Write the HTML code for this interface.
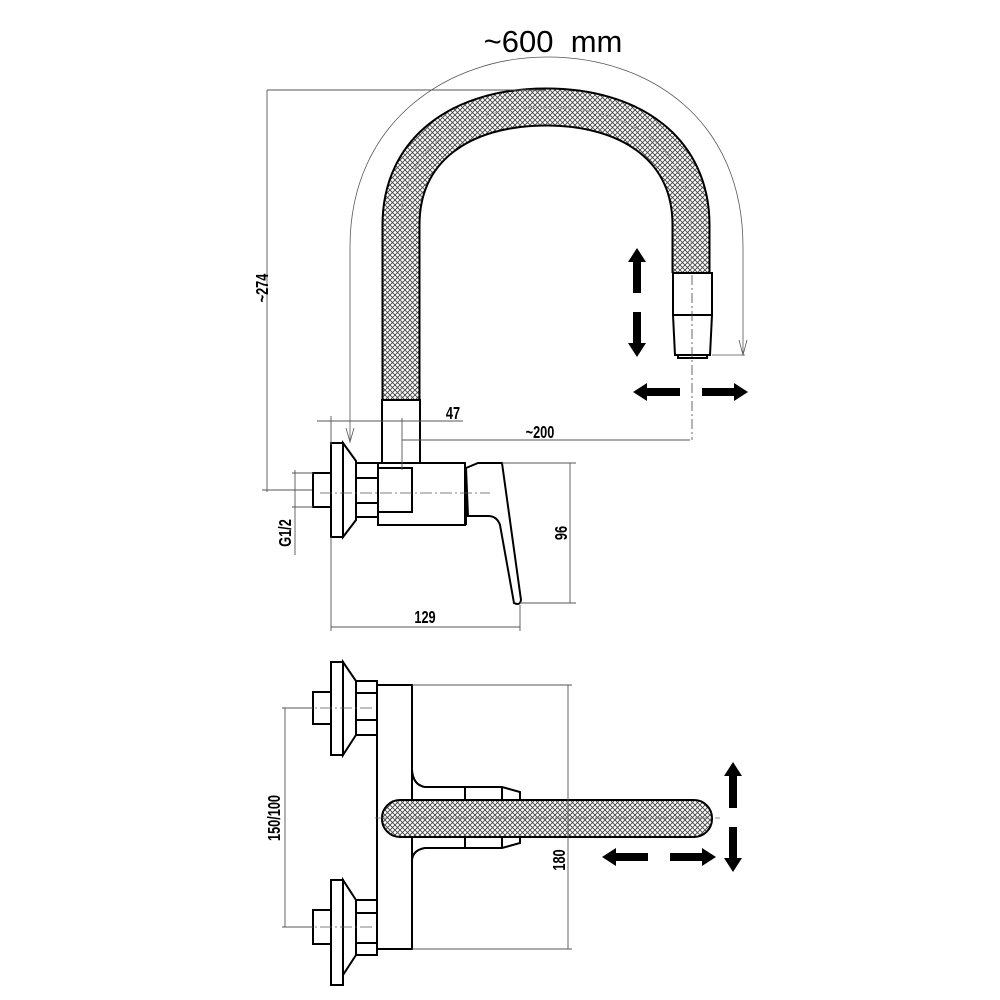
<!DOCTYPE html>
<html><head><meta charset="utf-8"><style>
html,body{margin:0;padding:0;background:#fff;}
svg{display:block;}
text{font-family:"Liberation Sans",sans-serif;font-weight:bold;fill:#000;}
</style></head><body>
<svg width="1000" height="1000" viewBox="0 0 1000 1000" xmlns="http://www.w3.org/2000/svg">
<defs>
<pattern id="h" width="5" height="5" patternUnits="userSpaceOnUse">
<rect width="5" height="5" fill="#fff"/>
<path d="M0 0L5 5M5 0L0 5" stroke="#444" stroke-width="0.9"/>
</pattern>
</defs>

<!-- ~600 mm -->
<text x="553" y="52" font-size="31" style="font-weight:normal" text-anchor="middle" fill="#555">~600&#160;&#160;mm</text>
<path d="M350 440 L350 247 C350 120 450 57 547 57 C650 57 743 120 743 247 L743 355" fill="none" stroke="#555" stroke-width="0.8"/>
<path d="M739 340 L743 355 L747 340" fill="none" stroke="#555" stroke-width="0.8"/>
<path d="M346 428 L350 442 L354 428" fill="none" stroke="#555" stroke-width="0.8"/>

<!-- hose top -->
<path d="M401 400 L401 225 C401 150 460 107 546 107 C632 107 691 150 691 225 L691 273" fill="none" stroke="#000" stroke-width="39"/>
<path d="M401 400 L401 225 C401 150 460 107 546 107 C632 107 691 150 691 225 L691 274" fill="none" stroke="url(#h)" stroke-width="35"/>
<path d="M401 400 L401 225 C401 150 460 107 546 107 C632 107 691 150 691 225 L691 273" fill="none" stroke="#999" stroke-width="0.8" stroke-dasharray="14 5"/>

<!-- spray head -->
<g fill="#fff" stroke="#000" stroke-width="2">
<rect x="673" y="273" width="39" height="42"/>
<path d="M673 315 L712 315 L710 355 L675 355 Z"/>
<rect x="678" y="355" width="29" height="3"/>
</g>
<line x1="692" y1="275" x2="692" y2="440" stroke="#444" stroke-width="0.8" stroke-dasharray="10 3 2 3"/>
<line x1="712" y1="355" x2="745" y2="355" stroke="#555" stroke-width="0.8"/>

<!-- arrows top -->
<g fill="#000">
<polygon points="637,248 646,262 641,262 641,293 633,293 633,262 628,262"/>
<polygon points="637,357 646,343 641,343 641,312 633,312 633,343 628,343"/>
<polygon points="633,392 647,383 647,388 680,388 680,396 647,396 647,401"/>
<polygon points="748,392 734,383 734,388 702,388 702,396 734,396 734,401"/>
</g>

<!-- ~274 dim -->
<g stroke="#555" stroke-width="0.9" fill="none">
<line x1="267" y1="90" x2="546" y2="90"/>
<line x1="267" y1="90" x2="267" y2="492"/>
<line x1="262" y1="490" x2="313" y2="490"/>
</g>
<text transform="translate(268 288) rotate(-90) scale(0.85 1.15)" font-size="15" text-anchor="middle">~274</text>

<!-- side view -->
<g fill="#fff" stroke="#000" stroke-width="2">
<rect x="382" y="400" width="38" height="63"/>
<rect x="378" y="463" width="87" height="62"/>
<rect x="378" y="468" width="34" height="44"/>
<rect x="313" y="473" width="18" height="34"/>
<path d="M343 443 L356 461 L356 520 L343 537 Z"/>
<rect x="331" y="443" width="12" height="94"/>
<path d="M356 463 L378 463 L378 517 L356 517 Z"/>
<line x1="356" y1="478" x2="378" y2="478"/>
<line x1="356" y1="503" x2="378" y2="503"/>
<path d="M466 468 L478 463 L502 463 L521 600 Q520 606 514 603 L500 525 Q497 516 488 516 L468 516 Z"/>
<line x1="466" y1="468" x2="466" y2="525"/>
</g>
<line x1="320" y1="493" x2="490" y2="493" stroke="#555" stroke-width="0.8" stroke-dasharray="12 3 2 3"/>

<!-- dims side -->
<g stroke="#555" stroke-width="0.9" fill="none">
<line x1="317" y1="421" x2="463" y2="421"/>
<line x1="331" y1="416" x2="331" y2="445"/>
<line x1="402" y1="418" x2="402" y2="470"/>
<line x1="402" y1="440" x2="690" y2="440"/>
<line x1="502" y1="463" x2="576" y2="463"/>
<line x1="520" y1="603" x2="576" y2="603"/>
<line x1="570" y1="463" x2="570" y2="603"/>
<line x1="331" y1="537" x2="331" y2="631"/>
<line x1="520" y1="605" x2="520" y2="631"/>
<line x1="331" y1="627" x2="520" y2="627"/>
<line x1="292" y1="473" x2="313" y2="473"/>
<line x1="292" y1="507" x2="313" y2="507"/>
<line x1="295" y1="470" x2="295" y2="555"/>
</g>
<text transform="translate(453 419) scale(0.85 1.2)" font-size="15" text-anchor="middle">47</text>
<text transform="translate(540 438) scale(0.85 1.2)" font-size="15" text-anchor="middle">~200</text>
<text transform="translate(567 533) rotate(-90) scale(0.85 1.2)" font-size="15" text-anchor="middle">96</text>
<text transform="translate(425 623) scale(0.85 1.2)" font-size="15" text-anchor="middle">129</text>
<text transform="translate(291 533) rotate(-90) scale(0.85 1.2)" font-size="15" text-anchor="middle">G1/2</text>

<!-- bottom view -->
<g fill="#fff" stroke="#000" stroke-width="2">
<rect x="377" y="685" width="35" height="264"/>
<rect x="313" y="692" width="18" height="32"/>
<path d="M343 662 L356 681 L356 735 L343 755 Z"/>
<rect x="331" y="662" width="12" height="93"/>
<rect x="356" y="681" width="21" height="54"/>
<line x1="356" y1="693" x2="377" y2="693"/>
<line x1="356" y1="720" x2="377" y2="720"/>
<rect x="313" y="910" width="18" height="34"/>
<path d="M343 880 L356 900 L356 955 L343 975 Z"/>
<rect x="331" y="880" width="12" height="105"/>
<rect x="356" y="900" width="21" height="55"/>
<line x1="356" y1="913" x2="377" y2="913"/>
<line x1="356" y1="943" x2="377" y2="943"/>
<path d="M412 770 Q413 785 425 787 L465 787" fill="none"/>
<path d="M465 787 L502 787 L520 792 L520 800 L465 800 Z" />
<line x1="502" y1="787" x2="502" y2="800"/>
<path d="M412 860 Q413 850 425 848 L465 848" fill="none"/>
<path d="M465 848 L502 848 L520 843 L520 837 L465 837 Z" />
<line x1="502" y1="848" x2="502" y2="837"/>
<rect x="382" y="800" width="330" height="37" rx="18" fill="url(#h)"/>
</g>
<line x1="375" y1="818" x2="720" y2="818" stroke="#666" stroke-width="0.8" stroke-dasharray="12 3 2 3"/>
<line x1="300" y1="708" x2="375" y2="708" stroke="#555" stroke-width="0.8" stroke-dasharray="12 3 2 3"/>
<line x1="300" y1="927" x2="375" y2="927" stroke="#555" stroke-width="0.8" stroke-dasharray="12 3 2 3"/>

<g stroke="#555" stroke-width="0.9" fill="none">
<line x1="412" y1="685" x2="572" y2="685"/>
<line x1="412" y1="949" x2="572" y2="949"/>
<line x1="568" y1="685" x2="568" y2="949"/>
<line x1="282" y1="708" x2="313" y2="708"/>
<line x1="282" y1="927" x2="313" y2="927"/>
<line x1="285" y1="708" x2="285" y2="927"/>
</g>
<text transform="translate(565 860) rotate(-90) scale(0.85 1.2)" font-size="15" text-anchor="middle">180</text>
<text transform="translate(280 818) rotate(-90) scale(0.85 1.2)" font-size="15" text-anchor="middle">150/100</text>

<g fill="#000">
<polygon points="733,762 742,776 737,776 737,808 729,808 729,776 724,776"/>
<polygon points="733,872 742,858 737,858 737,827 729,827 729,858 724,858"/>
<polygon points="602,857 616,848 616,853 648,853 648,861 616,861 616,866"/>
<polygon points="716,857 702,848 702,853 670,853 670,861 702,861 702,866"/>
</g>
</svg>
</body></html>
